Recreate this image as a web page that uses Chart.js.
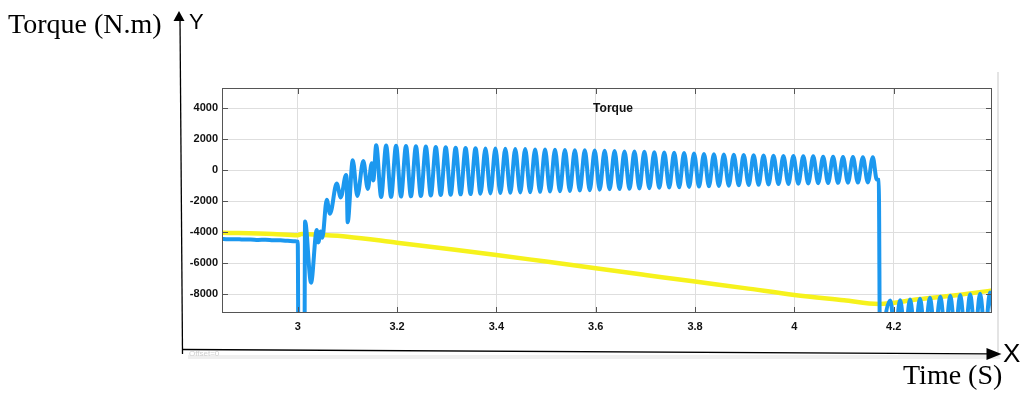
<!DOCTYPE html>
<html>
<head>
<meta charset="utf-8">
<script src="https://cdn.jsdelivr.net/npm/chart.js@4.4.1/dist/chart.umd.min.js"></script>
<style>
  html, body { margin: 0; padding: 0; background: #fff; overflow: hidden; }
  #wrap { position: relative; width: 1024px; height: 394px; }
  canvas { position: absolute; left: 0; top: 0; }
  .lbl { position: absolute; white-space: nowrap; color: #000; }
  .serif { font-family: 'Liberation Serif', 'Times New Roman', serif; font-size: 28px; line-height: 28px; }
  .sans { font-family: 'Liberation Sans', Arial, sans-serif; }
</style>
</head>
<body>
<div id="wrap">
  <canvas id="c" width="1024" height="394"></canvas>
  <div class="lbl serif" style="left:8px; top:10px;">Torque (N.m)</div>
  <div class="lbl sans" style="left:189px; top:11px; font-size:22px; line-height:22px;">Y</div>
  <div class="lbl sans" style="left:1003px; top:340px; font-size:26px; line-height:26px;">X</div>
  <div class="lbl serif" style="left:903px; top:361px;">Time (S)</div>
</div>
<script>
// Axis ranges and tick labels
const xRange = [2.8475, 4.398];
const yRange = [-9206, 5310];
const xTicks = [3, 3.2, 3.4, 3.6, 3.8, 4, 4.2];
const xTickLabels = ['3', '3.2', '3.4', '3.6', '3.8', '4', '4.2'];
const yTicks = [4000, 2000, 0, -2000, -4000, -6000, -8000];
const yTickLabels = ['4000', '2000', '0', '-2000', '-4000', '-6000', '-8000'];

// Electromagnetic torque (s, N.m)
const torqueTime = [
  2.845, 2.860, 2.875, 2.890, 2.905, 2.920, 2.935, 2.950, 2.965, 2.980, 2.995, 3.000,
  3.0015, 3.0135, 3.0147, 3.0268, 3.0383, 3.0415, 3.0463, 3.0495, 3.0584, 3.0650,
  3.0785, 3.0866, 3.0973, 3.0985, 3.1005, 3.1108, 3.1200, 3.1321, 3.1410, 3.1490, 3.1522,
  3.158, 3.168, 3.178, 3.188, 3.198, 3.208, 3.218, 3.228, 3.238, 3.248,
  3.258, 3.268, 3.278, 3.288, 3.298, 3.308, 3.318, 3.328, 3.338, 3.348,
  3.358, 3.368, 3.378, 3.388, 3.398, 3.408, 3.418, 3.428, 3.438, 3.448,
  3.458, 3.468, 3.478, 3.488, 3.498, 3.508, 3.518, 3.528, 3.538, 3.548,
  3.558, 3.568, 3.578, 3.588, 3.598, 3.608, 3.618, 3.628, 3.638, 3.648,
  3.658, 3.668, 3.678, 3.688, 3.698, 3.708, 3.718, 3.728, 3.738, 3.748,
  3.758, 3.768, 3.778, 3.788, 3.798, 3.808, 3.818, 3.828, 3.838, 3.848,
  3.858, 3.868, 3.878, 3.888, 3.898, 3.908, 3.918, 3.928, 3.938, 3.948,
  3.958, 3.968, 3.978, 3.988, 3.998, 4.008, 4.018, 4.028, 4.038, 4.048,
  4.058, 4.068, 4.078, 4.088, 4.098, 4.108, 4.118, 4.128, 4.138, 4.148,
  4.158, 4.166, 4.170, 4.1725,
  4.178, 4.193, 4.203, 4.213, 4.223, 4.233, 4.243, 4.253, 4.263, 4.273,
  4.283, 4.294, 4.304, 4.314, 4.324, 4.334, 4.344, 4.354, 4.364, 4.374,
  4.384, 4.394, 4.404
];
const torqueValue = [
  -4420, -4450, -4440, -4470, -4460, -4490, -4480, -4510, -4520, -4550, -4580, -4600,
  -12000, -12000, -3300, -7250, -3850, -4650, -3950, -4350, -1900, -2800,
  -850, -1750, -300, -500, -3350, 650, -1650, 600, -1200, 450, -650,
  1620, -1720, 1600, -1710, 1590, -1690, 1570, -1680, 1550, -1660,
  1530, -1630, 1500, -1600, 1480, -1570, 1450, -1550, 1440, -1530,
  1430, -1510, 1410, -1490, 1400, -1470, 1390, -1450, 1380, -1430,
  1370, -1410, 1350, -1390, 1340, -1370, 1330, -1350, 1310, -1330,
  1300, -1310, 1290, -1280, 1270, -1250, 1260, -1230, 1240, -1210,
  1220, -1190, 1210, -1170, 1190, -1150, 1170, -1130, 1150, -1110,
  1130, -1090, 1110, -1070, 1090, -1050, 1060, -1030, 1040, -1010,
  1020, -990, 1000, -970, 990, -950, 970, -930, 960, -910,
  940, -890, 930, -880, 920, -860, 910, -850, 900, -830,
  880, -820, 870, -810, 860, -800, 860, -790, 850, -780,
  840, -600, -620, -12000,
  -10500, -8400, -10500, -8390, -10500, -8340, -10500, -8280, -10500, -8230,
  -10500, -8160, -10500, -8100, -10500, -8050, -10500, -8000, -10500, -7960,
  -10500, -7880, -10500
];

// Load torque reference (s, N.m)
const refTime = [2.845, 2.95, 3.0, 3.008, 3.05, 3.1, 3.2, 3.3, 3.4, 3.5, 3.6, 3.7, 3.8, 3.9, 4.0, 4.1, 4.17, 4.25, 4.33, 4.40];
const refValue = [-4020, -4110, -4190, -4110, -4170, -4280, -4670, -5060, -5460, -5890, -6320, -6750, -7180, -7600, -8040, -8380, -8620, -8320, -8040, -7740];

const toPoints = (xs, ys) => xs.map((x, i) => ({ x: x, y: ys[i] }));

const tickFont = { family: "'Liberation Sans', Arial, sans-serif", size: 11, weight: 'bold' };
const gridColor = '#dedede';
const frameColor = '#555555';

// Scope frame, inward ticks, title and the hand-drawn X/Y axes around the figure
const scopeDecor = {
  id: 'scopeDecor',
  beforeDraw(chart) {
    const ctx = chart.ctx;
    ctx.save();
    ctx.fillStyle = '#efefef';
    ctx.fillRect(188, 355, 812, 4);
    ctx.strokeStyle = '#e4e4e4';
    ctx.lineWidth = 2;
    ctx.beginPath();
    ctx.moveTo(998, 72);
    ctx.lineTo(998, 357);
    ctx.stroke();
    ctx.fillStyle = '#cfcfcf';
    ctx.font = "8px 'Liberation Sans', Arial, sans-serif";
    ctx.fillText('Offset=0', 189, 356);
    ctx.restore();
  },
  afterDraw(chart) {
    const ctx = chart.ctx;
    const a = chart.chartArea;
    const xs = chart.scales.x, ys = chart.scales.y;
    ctx.save();
    // plot frame
    ctx.strokeStyle = frameColor;
    ctx.lineWidth = 1;
    ctx.strokeRect(a.left + 0.5, a.top + 0.5, a.right - a.left - 1, a.bottom - a.top - 1);
    // inward ticks on all four sides
    ctx.beginPath();
    xTicks.forEach(v => {
      const px = Math.round(xs.getPixelForValue(v)) + 0.5;
      ctx.moveTo(px, a.bottom); ctx.lineTo(px, a.bottom - 6);
      ctx.moveTo(px, a.top); ctx.lineTo(px, a.top + 6);
    });
    yTicks.forEach(v => {
      const py = Math.round(ys.getPixelForValue(v)) + 0.5;
      ctx.moveTo(a.left, py); ctx.lineTo(a.left + 6, py);
      ctx.moveTo(a.right, py); ctx.lineTo(a.right - 6, py);
    });
    ctx.stroke();
    // title inside the plot
    ctx.fillStyle = '#111';
    ctx.font = "bold 12px 'Liberation Sans', Arial, sans-serif";
    ctx.textAlign = 'center';
    ctx.textBaseline = 'alphabetic';
    ctx.fillText('Torque', 613, 112);
    // outer Y axis with arrow
    ctx.strokeStyle = '#000';
    ctx.fillStyle = '#000';
    ctx.lineWidth = 1.3;
    ctx.beginPath();
    ctx.moveTo(180, 19);
    ctx.lineTo(182.5, 354);
    ctx.stroke();
    ctx.beginPath();
    ctx.moveTo(179, 11);
    ctx.lineTo(184.5, 21);
    ctx.lineTo(173.5, 21);
    ctx.closePath();
    ctx.fill();
    // outer X axis with arrow
    ctx.beginPath();
    ctx.moveTo(182, 349.5);
    ctx.lineTo(988, 353.8);
    ctx.stroke();
    ctx.beginPath();
    ctx.moveTo(1001.5, 354);
    ctx.lineTo(986.5, 348);
    ctx.lineTo(986.5, 360);
    ctx.closePath();
    ctx.fill();
    ctx.restore();
  }
};

new Chart(document.getElementById('c'), {
  type: 'line',
  data: {
    datasets: [
      {
        label: 'Torque',
        data: toPoints(torqueTime, torqueValue),
        borderColor: '#1c98ef',
        borderWidth: 4,
        cubicInterpolationMode: 'monotone',
        borderJoinStyle: 'round',
        borderCapStyle: 'round',
        fill: false,
        pointRadius: 0
      },
      {
        label: 'Reference',
        data: toPoints(refTime, refValue),
        borderColor: '#f6f21c',
        borderWidth: 4.5,
        cubicInterpolationMode: 'monotone',
        fill: false,
        pointRadius: 0
      }
    ]
  },
  options: {
    responsive: false,
    animation: false,
    devicePixelRatio: 1,
    layout: { padding: { left: 0, top: 88, right: 32, bottom: 0 } },
    plugins: { legend: { display: false }, tooltip: { enabled: false } },
    scales: {
      x: {
        type: 'linear',
        min: xRange[0],
        max: xRange[1],
        afterBuildTicks: s => { s.ticks = xTicks.map(v => ({ value: v })); },
        afterFit: s => { s.height = 81; },
        grid: { color: gridColor, drawTicks: false },
        border: { display: false },
        ticks: {
          padding: 7, autoSkip: false, maxRotation: 0, color: '#111', font: tickFont,
          callback: (v, i) => xTickLabels[i]
        }
      },
      y: {
        type: 'linear',
        min: yRange[0],
        max: yRange[1],
        afterBuildTicks: s => { s.ticks = yTicks.map(v => ({ value: v })); },
        afterFit: s => { s.width = 222; },
        grid: { color: gridColor, drawTicks: false },
        border: { display: false },
        ticks: {
          padding: 4, autoSkip: false, color: '#111', font: tickFont,
          callback: (v, i) => yTickLabels[i]
        }
      }
    }
  },
  plugins: [scopeDecor]
});
</script>
</body>
</html>
